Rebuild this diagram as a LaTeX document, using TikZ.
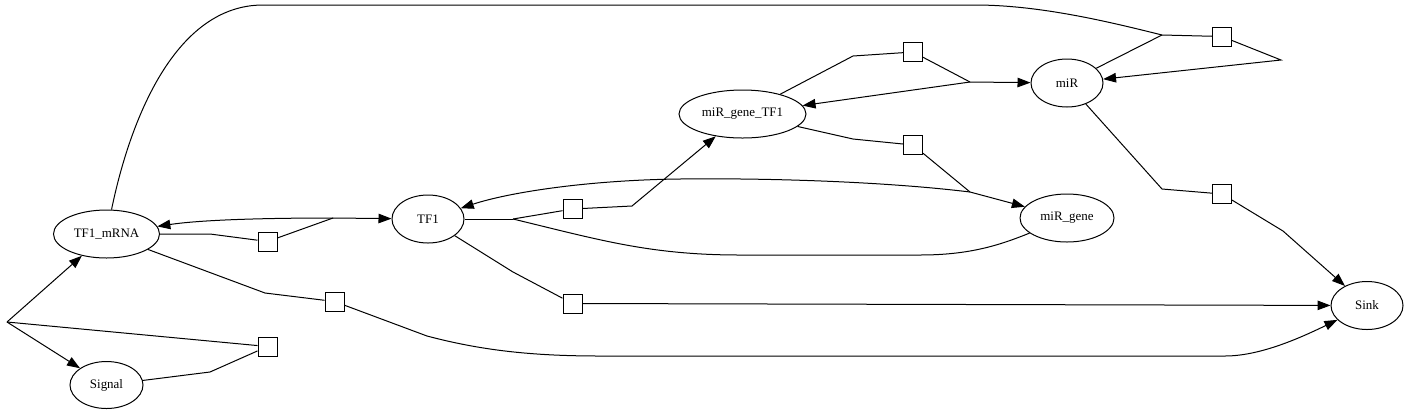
\documentclass[tikz,border=0pt]{standalone}
\usepackage{fontspec}
\setmainfont{Liberation Serif}
\usetikzlibrary{arrows.meta,shapes.geometric}

\begin{document}
\begin{tikzpicture}[
  x=1bp, y=-1bp,
  font=\fontsize{13}{15}\selectfont,
  line width=1bp,
  >={Triangle[length=13bp,width=9.5bp]},
  species/.style={draw, ellipse, inner sep=0pt, minimum height=48bp},
  rxn/.style={draw, rectangle, inner sep=0pt, minimum size=19bp}
]
\useasboundingbox (0,0) rectangle (1408,413);

% ---- Species ----
\node[species, minimum width=106bp] (mrna) at (106.5,234) {TF1\_mRNA};
\node[species, minimum width=73bp, minimum height=47bp] (signal) at (106.5,385) {Signal};
\node[species, minimum width=72bp] (tf) at (428,219) {TF1};
\node[species, minimum width=127bp] (cplx) at (742.5,114) {miR\_gene\_TF1};
\node[species, minimum width=72bp] (mir) at (1067,83) {miR};
\node[species, minimum width=94bp] (gene) at (1067,218) {miR\_gene};
\node[species, minimum width=72bp] (sink) at (1367,305.5) {Sink};

% ---- Reactions ----
\node[rxn] (rtl) at (267.5,241.5) {};
\node[rxn] (rmdeg) at (334.5,301.5) {};
\node[rxn] (rtx) at (267.5,346.5) {};
\node[rxn] (rbind) at (572.5,209) {};
\node[rxn] (rtdg) at (572.5,303.5) {};
\node[rxn] (rmtx) at (913,52) {};
\node[rxn] (runb) at (913,145) {};
\node[rxn] (rsil) at (1222,36.5) {};
\node[rxn] (rmdg) at (1222,194) {};

% ---- Junctions ----
\coordinate (jsig) at (7,322);
\coordinate (jtl) at (333,218);
\coordinate (jbind) at (513,219);
\coordinate (jtx) at (970,82);
\coordinate (junb) at (970,192);
\coordinate (jsil) at (1162,35);

% ---- Signal drives transcription ----
\draw (signal) -- (210,372) -- (rtx);
\draw (jsig) -- (rtx);
\draw[->] (jsig) -- (mrna);
\draw[->] (jsig) -- (signal);

% ---- Translation ----
\draw (mrna) -- (210,234) -- (rtl);
\draw (rtl) -- (jtl);
\draw[->] (jtl) -- (tf);
\draw[->] (jtl) .. controls (260,218) and (200,220) .. (mrna);

% ---- mRNA decay ----
\draw (mrna) -- (265,293) -- (rmdeg);
\draw[->] (rmdeg) -- (427,336) .. controls (480,350) and (530,356) .. (600,356)
  -- (1225,356) .. controls (1260,356) and (1300,338) .. (sink);

% ---- Silencing by miR ----
\draw (mrna) .. controls (130,120) and (175,5) .. (263,5) -- (975,5)
  .. controls (1040,5) and (1110,22) .. (jsil);
\draw (mir) -- (jsil);
\draw (jsil) -- (rsil);
\draw[->] (rsil) -- (1281,60) -- (mir);

% ---- Binding ----
\draw (tf) -- (jbind);
\draw (gene) .. controls (1000,245) and (970,255) .. (920,255) -- (740,255)
  .. controls (650,255) and (600,240) .. (jbind);
\draw (jbind) -- (rbind);
\draw[->] (rbind) -- (632,206) -- (cplx);

% ---- Unbinding ----
\draw (cplx) -- (853,139) -- (runb);
\draw (runb) -- (junb);
\draw[->] (junb) -- (gene);
\draw[->] (junb) .. controls (880,181) and (760,178) .. (680,179)
  .. controls (590,180) and (510,192) .. (tf);

% ---- miR transcription ----
\draw (cplx) -- (853,56) -- (rmtx);
\draw (rmtx) -- (jtx);
\draw[->] (jtx) -- (mir);
\draw[->] (jtx) -- (cplx);

% ---- Decay to sink ----
\draw (mir) -- (1162,189) -- (rmdg);
\draw[->] (rmdg) -- (1283,231) -- (sink);
\draw (tf) -- (513,272) -- (rtdg);
\draw[->] (rtdg) -- (sink);

\end{tikzpicture}
\end{document}
